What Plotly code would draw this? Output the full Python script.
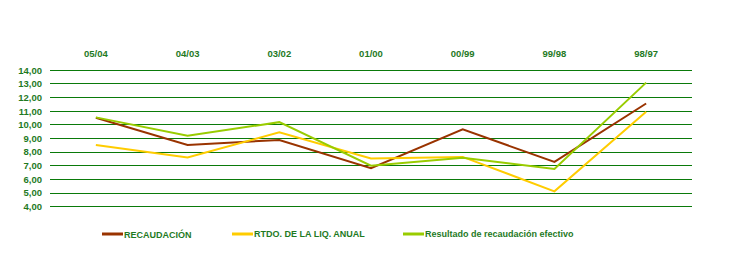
import plotly.graph_objects as go

categories = ["05/04", "04/03", "03/02", "01/00", "00/99", "99/98", "98/97"]
recaudacion = [10.52, 8.53, 8.89, 6.82, 9.67, 7.28, 11.57]
rtdo_liq = [8.53, 7.60, 9.45, 7.53, 7.65, 5.12, 10.96]
resultado_efectivo = [10.55, 9.20, 10.20, 7.00, 7.58, 6.77, 13.10]
y_ticks = [4, 5, 6, 7, 8, 9, 10, 11, 12, 13, 14]
y_ticklabels = ["4,00", "5,00", "6,00", "7,00", "8,00", "9,00", "10,00", "11,00", "12,00", "13,00", "14,00"]

TXT = "#1f7a1f"
GRID = "#0a7a0a"
FONT = dict(family="Liberation Sans, Arial, sans-serif", size=9.5, color=TXT, weight="bold")
LEGFONT = dict(family="Liberation Sans, Arial, sans-serif", size=9, color=TXT, weight="bold")

series = [
    ("RECAUDACIÓN", recaudacion, "#993300"),
    ("RTDO. DE LA LIQ. ANUAL", rtdo_liq, "#FFCC00"),
    ("Resultado de recaudación efectivo", resultado_efectivo, "#99CC00"),
]

fig = go.Figure()
for name, vals, col in series:
    fig.add_trace(go.Scatter(x=categories, y=vals, name=name, mode="lines",
                             line=dict(color=col, width=2), showlegend=False))

# custom legend (short key lines right next to the text)
L, R, T, B = 50, 41, 69, 55
W, H = 733, 263
pw, ph = W - L - R, H - T - B
legend_x = [102, 232, 403]
legend_y = 234
shapes, annotations = [], []
for (name, _, col), px in zip(series, legend_x):
    x0 = (px - L) / pw
    x1 = (px + 21 - L) / pw
    yp = (H - B - legend_y) / ph
    shapes.append(dict(type="line", xref="paper", yref="paper", x0=x0, x1=x1, y0=yp, y1=yp,
                       line=dict(color=col, width=3)))
    annotations.append(dict(text=name, xref="paper", yref="paper", x=x1, y=yp,
                            xanchor="left", yanchor="middle", showarrow=False,
                            font=LEGFONT, xshift=-1))

fig.update_layout(
    width=W, height=H,
    margin=dict(l=L, r=R, t=T, b=B),
    paper_bgcolor="white", plot_bgcolor="white",
    font=FONT,
    showlegend=False,
    shapes=shapes, annotations=annotations,
)
fig.update_xaxes(side="top", range=[-0.5, 6.5], showgrid=False, showline=False,
                 zeroline=False, ticks="", tickfont=FONT, ticklabelstandoff=9)
fig.update_yaxes(range=[3.9, 14.1], tickvals=y_ticks, ticktext=y_ticklabels,
                 showgrid=True, gridcolor=GRID, gridwidth=1, zeroline=False,
                 showline=False, ticks="", tickfont=FONT, ticklabelstandoff=7)

fig.write_html("out.html")
